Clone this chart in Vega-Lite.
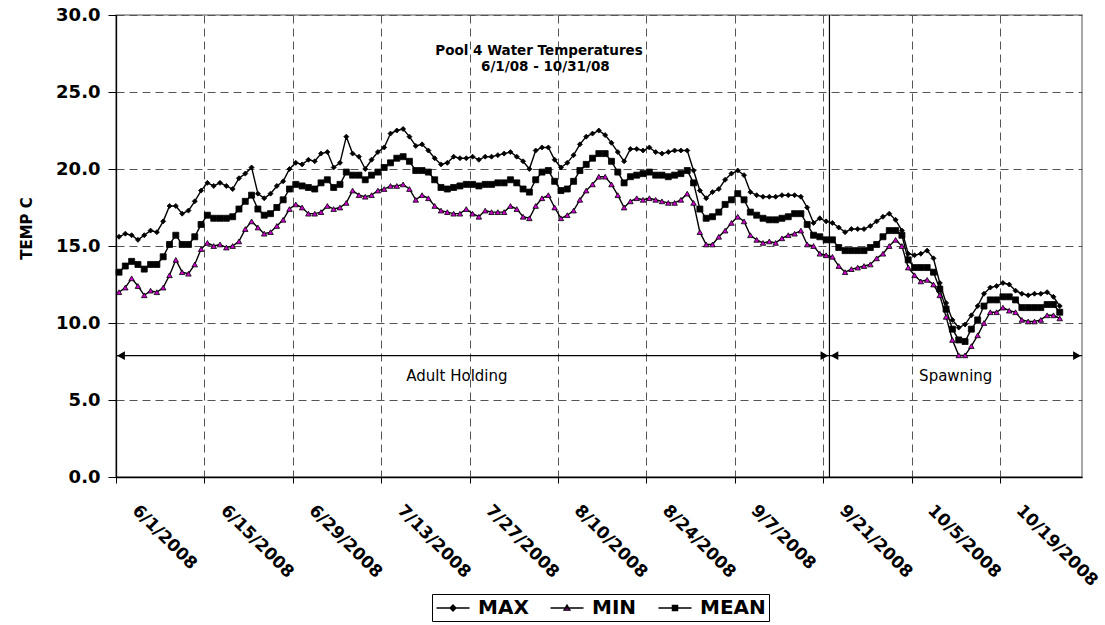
{
  "$schema": "https://vega.github.io/schema/vega-lite/v6.json",
  "autosize": "none",
  "width": 966,
  "height": 462,
  "padding": {"left": 116, "top": 15, "right": 23, "bottom": 148},
  "background": "white",
  "config": {
    "view": {"stroke": "#8c8c8c", "strokeWidth": 1.5},
    "font": "DejaVu Sans"
  },
  "datasets": {
    "temps": [
      {"date": "2008/06/01", "MAX": 15.6, "MEAN": 13.3, "MIN": 12.0},
      {"date": "2008/06/02", "MAX": 15.8, "MEAN": 13.7, "MIN": 12.3},
      {"date": "2008/06/03", "MAX": 15.7, "MEAN": 14.0, "MIN": 12.9},
      {"date": "2008/06/04", "MAX": 15.4, "MEAN": 13.8, "MIN": 12.4},
      {"date": "2008/06/05", "MAX": 15.7, "MEAN": 13.5, "MIN": 11.8},
      {"date": "2008/06/06", "MAX": 16.0, "MEAN": 13.8, "MIN": 12.1},
      {"date": "2008/06/07", "MAX": 15.9, "MEAN": 13.8, "MIN": 12.0},
      {"date": "2008/06/08", "MAX": 16.6, "MEAN": 14.3, "MIN": 12.3},
      {"date": "2008/06/09", "MAX": 17.6, "MEAN": 15.1, "MIN": 13.1},
      {"date": "2008/06/10", "MAX": 17.6, "MEAN": 15.7, "MIN": 14.1},
      {"date": "2008/06/11", "MAX": 17.1, "MEAN": 15.1, "MIN": 13.3},
      {"date": "2008/06/12", "MAX": 17.3, "MEAN": 15.1, "MIN": 13.2},
      {"date": "2008/06/13", "MAX": 17.9, "MEAN": 15.6, "MIN": 13.8},
      {"date": "2008/06/14", "MAX": 18.6, "MEAN": 16.4, "MIN": 14.8},
      {"date": "2008/06/15", "MAX": 19.1, "MEAN": 17.0, "MIN": 15.2},
      {"date": "2008/06/16", "MAX": 18.9, "MEAN": 16.8, "MIN": 15.0},
      {"date": "2008/06/17", "MAX": 19.1, "MEAN": 16.8, "MIN": 15.1},
      {"date": "2008/06/18", "MAX": 18.9, "MEAN": 16.8, "MIN": 14.9},
      {"date": "2008/06/19", "MAX": 18.7, "MEAN": 16.9, "MIN": 15.0},
      {"date": "2008/06/20", "MAX": 19.4, "MEAN": 17.4, "MIN": 15.3},
      {"date": "2008/06/21", "MAX": 19.7, "MEAN": 17.9, "MIN": 16.1},
      {"date": "2008/06/22", "MAX": 20.1, "MEAN": 18.3, "MIN": 16.6},
      {"date": "2008/06/23", "MAX": 18.4, "MEAN": 17.4, "MIN": 16.2},
      {"date": "2008/06/24", "MAX": 18.1, "MEAN": 17.0, "MIN": 15.8},
      {"date": "2008/06/25", "MAX": 18.4, "MEAN": 17.1, "MIN": 15.9},
      {"date": "2008/06/26", "MAX": 18.9, "MEAN": 17.5, "MIN": 16.3},
      {"date": "2008/06/27", "MAX": 19.2, "MEAN": 18.0, "MIN": 16.7},
      {"date": "2008/06/28", "MAX": 20.0, "MEAN": 18.7, "MIN": 17.4},
      {"date": "2008/06/29", "MAX": 20.4, "MEAN": 19.0, "MIN": 17.7},
      {"date": "2008/06/30", "MAX": 20.3, "MEAN": 18.9, "MIN": 17.5},
      {"date": "2008/07/01", "MAX": 20.6, "MEAN": 18.8, "MIN": 17.1},
      {"date": "2008/07/02", "MAX": 20.5, "MEAN": 18.7, "MIN": 17.1},
      {"date": "2008/07/03", "MAX": 21.0, "MEAN": 19.1, "MIN": 17.2},
      {"date": "2008/07/04", "MAX": 21.1, "MEAN": 19.3, "MIN": 17.6},
      {"date": "2008/07/05", "MAX": 20.1, "MEAN": 18.8, "MIN": 17.4},
      {"date": "2008/07/06", "MAX": 20.4, "MEAN": 19.0, "MIN": 17.5},
      {"date": "2008/07/07", "MAX": 22.1, "MEAN": 19.8, "MIN": 17.8},
      {"date": "2008/07/08", "MAX": 21.0, "MEAN": 19.6, "MIN": 18.6},
      {"date": "2008/07/09", "MAX": 20.8, "MEAN": 19.6, "MIN": 18.3},
      {"date": "2008/07/10", "MAX": 20.0, "MEAN": 19.3, "MIN": 18.2},
      {"date": "2008/07/11", "MAX": 20.6, "MEAN": 19.6, "MIN": 18.3},
      {"date": "2008/07/12", "MAX": 21.1, "MEAN": 19.8, "MIN": 18.6},
      {"date": "2008/07/13", "MAX": 21.4, "MEAN": 20.1, "MIN": 18.7},
      {"date": "2008/07/14", "MAX": 22.3, "MEAN": 20.4, "MIN": 18.9},
      {"date": "2008/07/15", "MAX": 22.5, "MEAN": 20.7, "MIN": 18.9},
      {"date": "2008/07/16", "MAX": 22.6, "MEAN": 20.8, "MIN": 19.0},
      {"date": "2008/07/17", "MAX": 22.1, "MEAN": 20.5, "MIN": 18.7},
      {"date": "2008/07/18", "MAX": 21.5, "MEAN": 19.9, "MIN": 18.0},
      {"date": "2008/07/19", "MAX": 21.6, "MEAN": 19.9, "MIN": 18.3},
      {"date": "2008/07/20", "MAX": 21.2, "MEAN": 19.8, "MIN": 18.1},
      {"date": "2008/07/21", "MAX": 20.7, "MEAN": 19.3, "MIN": 17.6},
      {"date": "2008/07/22", "MAX": 20.3, "MEAN": 18.8, "MIN": 17.3},
      {"date": "2008/07/23", "MAX": 20.4, "MEAN": 18.7, "MIN": 17.2},
      {"date": "2008/07/24", "MAX": 20.8, "MEAN": 18.8, "MIN": 17.1},
      {"date": "2008/07/25", "MAX": 20.7, "MEAN": 18.9, "MIN": 17.1},
      {"date": "2008/07/26", "MAX": 20.7, "MEAN": 19.0, "MIN": 17.4},
      {"date": "2008/07/27", "MAX": 20.8, "MEAN": 19.0, "MIN": 17.1},
      {"date": "2008/07/28", "MAX": 20.6, "MEAN": 18.9, "MIN": 16.9},
      {"date": "2008/07/29", "MAX": 20.8, "MEAN": 19.0, "MIN": 17.3},
      {"date": "2008/07/30", "MAX": 20.8, "MEAN": 19.0, "MIN": 17.2},
      {"date": "2008/07/31", "MAX": 20.9, "MEAN": 19.1, "MIN": 17.2},
      {"date": "2008/08/01", "MAX": 21.0, "MEAN": 19.1, "MIN": 17.2},
      {"date": "2008/08/02", "MAX": 21.1, "MEAN": 19.3, "MIN": 17.6},
      {"date": "2008/08/03", "MAX": 20.8, "MEAN": 19.1, "MIN": 17.4},
      {"date": "2008/08/04", "MAX": 20.5, "MEAN": 18.7, "MIN": 16.9},
      {"date": "2008/08/05", "MAX": 20.0, "MEAN": 18.5, "MIN": 16.8},
      {"date": "2008/08/06", "MAX": 21.2, "MEAN": 19.3, "MIN": 17.6},
      {"date": "2008/08/07", "MAX": 21.4, "MEAN": 19.8, "MIN": 18.1},
      {"date": "2008/08/08", "MAX": 21.4, "MEAN": 19.9, "MIN": 18.3},
      {"date": "2008/08/09", "MAX": 20.6, "MEAN": 19.2, "MIN": 17.5},
      {"date": "2008/08/10", "MAX": 20.1, "MEAN": 18.6, "MIN": 16.8},
      {"date": "2008/08/11", "MAX": 20.4, "MEAN": 18.7, "MIN": 17.0},
      {"date": "2008/08/12", "MAX": 20.9, "MEAN": 19.2, "MIN": 17.3},
      {"date": "2008/08/13", "MAX": 21.6, "MEAN": 19.9, "MIN": 18.0},
      {"date": "2008/08/14", "MAX": 22.1, "MEAN": 20.3, "MIN": 18.6},
      {"date": "2008/08/15", "MAX": 22.3, "MEAN": 20.7, "MIN": 19.0},
      {"date": "2008/08/16", "MAX": 22.5, "MEAN": 21.0, "MIN": 19.5},
      {"date": "2008/08/17", "MAX": 22.2, "MEAN": 21.0, "MIN": 19.5},
      {"date": "2008/08/18", "MAX": 21.7, "MEAN": 20.5, "MIN": 19.0},
      {"date": "2008/08/19", "MAX": 21.1, "MEAN": 19.8, "MIN": 18.3},
      {"date": "2008/08/20", "MAX": 20.5, "MEAN": 19.1, "MIN": 17.5},
      {"date": "2008/08/21", "MAX": 21.3, "MEAN": 19.5, "MIN": 17.9},
      {"date": "2008/08/22", "MAX": 21.3, "MEAN": 19.6, "MIN": 18.1},
      {"date": "2008/08/23", "MAX": 21.2, "MEAN": 19.7, "MIN": 18.0},
      {"date": "2008/08/24", "MAX": 21.4, "MEAN": 19.8, "MIN": 18.1},
      {"date": "2008/08/25", "MAX": 21.1, "MEAN": 19.6, "MIN": 18.0},
      {"date": "2008/08/26", "MAX": 21.0, "MEAN": 19.6, "MIN": 17.9},
      {"date": "2008/08/27", "MAX": 21.1, "MEAN": 19.5, "MIN": 17.8},
      {"date": "2008/08/28", "MAX": 21.2, "MEAN": 19.6, "MIN": 17.8},
      {"date": "2008/08/29", "MAX": 21.2, "MEAN": 19.7, "MIN": 18.0},
      {"date": "2008/08/30", "MAX": 21.2, "MEAN": 19.9, "MIN": 18.4},
      {"date": "2008/08/31", "MAX": 19.9, "MEAN": 19.1, "MIN": 17.8},
      {"date": "2008/09/01", "MAX": 18.6, "MEAN": 17.4, "MIN": 15.9},
      {"date": "2008/09/02", "MAX": 18.1, "MEAN": 16.8, "MIN": 15.1},
      {"date": "2008/09/03", "MAX": 18.5, "MEAN": 16.9, "MIN": 15.1},
      {"date": "2008/09/04", "MAX": 18.7, "MEAN": 17.2, "MIN": 15.6},
      {"date": "2008/09/05", "MAX": 19.3, "MEAN": 17.7, "MIN": 16.0},
      {"date": "2008/09/06", "MAX": 19.7, "MEAN": 18.0, "MIN": 16.5},
      {"date": "2008/09/07", "MAX": 19.9, "MEAN": 18.4, "MIN": 16.9},
      {"date": "2008/09/08", "MAX": 19.6, "MEAN": 18.0, "MIN": 16.6},
      {"date": "2008/09/09", "MAX": 18.5, "MEAN": 17.2, "MIN": 15.7},
      {"date": "2008/09/10", "MAX": 18.3, "MEAN": 17.0, "MIN": 15.4},
      {"date": "2008/09/11", "MAX": 18.2, "MEAN": 16.8, "MIN": 15.2},
      {"date": "2008/09/12", "MAX": 18.2, "MEAN": 16.7, "MIN": 15.3},
      {"date": "2008/09/13", "MAX": 18.2, "MEAN": 16.7, "MIN": 15.2},
      {"date": "2008/09/14", "MAX": 18.3, "MEAN": 16.8, "MIN": 15.5},
      {"date": "2008/09/15", "MAX": 18.3, "MEAN": 16.9, "MIN": 15.7},
      {"date": "2008/09/16", "MAX": 18.3, "MEAN": 17.1, "MIN": 15.8},
      {"date": "2008/09/17", "MAX": 18.2, "MEAN": 17.1, "MIN": 16.0},
      {"date": "2008/09/18", "MAX": 17.5, "MEAN": 16.4, "MIN": 15.1},
      {"date": "2008/09/19", "MAX": 16.5, "MEAN": 15.7, "MIN": 15.0},
      {"date": "2008/09/20", "MAX": 16.8, "MEAN": 15.6, "MIN": 14.5},
      {"date": "2008/09/21", "MAX": 16.6, "MEAN": 15.4, "MIN": 14.4},
      {"date": "2008/09/22", "MAX": 16.5, "MEAN": 15.4, "MIN": 14.3},
      {"date": "2008/09/23", "MAX": 16.2, "MEAN": 14.9, "MIN": 13.7},
      {"date": "2008/09/24", "MAX": 15.9, "MEAN": 14.7, "MIN": 13.3},
      {"date": "2008/09/25", "MAX": 16.1, "MEAN": 14.7, "MIN": 13.5},
      {"date": "2008/09/26", "MAX": 16.1, "MEAN": 14.7, "MIN": 13.6},
      {"date": "2008/09/27", "MAX": 16.1, "MEAN": 14.7, "MIN": 13.7},
      {"date": "2008/09/28", "MAX": 16.3, "MEAN": 14.9, "MIN": 13.8},
      {"date": "2008/09/29", "MAX": 16.6, "MEAN": 15.1, "MIN": 14.2},
      {"date": "2008/09/30", "MAX": 16.9, "MEAN": 15.6, "MIN": 14.5},
      {"date": "2008/10/01", "MAX": 17.1, "MEAN": 16.0, "MIN": 15.0},
      {"date": "2008/10/02", "MAX": 16.7, "MEAN": 16.0, "MIN": 15.4},
      {"date": "2008/10/03", "MAX": 16.0, "MEAN": 15.7, "MIN": 15.0},
      {"date": "2008/10/04", "MAX": 14.5, "MEAN": 14.1, "MIN": 13.6},
      {"date": "2008/10/05", "MAX": 14.4, "MEAN": 13.6, "MIN": 13.1},
      {"date": "2008/10/06", "MAX": 14.5, "MEAN": 13.6, "MIN": 12.7},
      {"date": "2008/10/07", "MAX": 14.7, "MEAN": 13.6, "MIN": 12.8},
      {"date": "2008/10/08", "MAX": 14.2, "MEAN": 13.3, "MIN": 12.5},
      {"date": "2008/10/09", "MAX": 12.6, "MEAN": 12.2, "MIN": 11.8},
      {"date": "2008/10/10", "MAX": 11.3, "MEAN": 10.9, "MIN": 10.4},
      {"date": "2008/10/11", "MAX": 10.2, "MEAN": 9.6, "MIN": 8.9},
      {"date": "2008/10/12", "MAX": 9.7, "MEAN": 8.9, "MIN": 7.9},
      {"date": "2008/10/13", "MAX": 9.9, "MEAN": 8.8, "MIN": 7.9},
      {"date": "2008/10/14", "MAX": 10.5, "MEAN": 9.6, "MIN": 8.5},
      {"date": "2008/10/15", "MAX": 11.1, "MEAN": 10.2, "MIN": 9.2},
      {"date": "2008/10/16", "MAX": 11.9, "MEAN": 11.1, "MIN": 10.0},
      {"date": "2008/10/17", "MAX": 12.3, "MEAN": 11.5, "MIN": 10.7},
      {"date": "2008/10/18", "MAX": 12.4, "MEAN": 11.5, "MIN": 10.7},
      {"date": "2008/10/19", "MAX": 12.6, "MEAN": 11.7, "MIN": 11.0},
      {"date": "2008/10/20", "MAX": 12.5, "MEAN": 11.7, "MIN": 10.8},
      {"date": "2008/10/21", "MAX": 12.1, "MEAN": 11.5, "MIN": 10.7},
      {"date": "2008/10/22", "MAX": 11.9, "MEAN": 11.0, "MIN": 10.2},
      {"date": "2008/10/23", "MAX": 11.8, "MEAN": 11.0, "MIN": 10.1},
      {"date": "2008/10/24", "MAX": 11.9, "MEAN": 11.0, "MIN": 10.1},
      {"date": "2008/10/25", "MAX": 11.9, "MEAN": 11.0, "MIN": 10.2},
      {"date": "2008/10/26", "MAX": 12.0, "MEAN": 11.2, "MIN": 10.5},
      {"date": "2008/10/27", "MAX": 11.7, "MEAN": 11.2, "MIN": 10.5},
      {"date": "2008/10/28", "MAX": 11.1, "MEAN": 10.7, "MIN": 10.3}
    ],
    "periods": [
      {"start": "2008/06/01", "end": "2008/09/22", "level": 7.88},
      {"start": "2008/09/22", "end": "2008/11/01", "level": 7.88}
    ],
    "headsLeft": [
      {"date": "2008/06/01", "level": 7.88},
      {"date": "2008/09/22", "level": 7.88}
    ],
    "headsRight": [
      {"date": "2008/09/22", "level": 7.88},
      {"date": "2008/11/01", "level": 7.88}
    ],
    "divider": [{"date": "2008/09/22"}],
    "periodLabels": [
      {"label": "Adult Holding", "date": "2008/07/25", "level": 6.55},
      {"label": "Spawning", "date": "2008/10/12", "level": 6.55}
    ],
    "titleLines": [
      {"label": "Pool 4 Water Temperatures", "date": "2008/08/07", "level": 27.65},
      {"label": "6/1/08 - 10/31/08", "date": "2008/08/08", "level": 26.65}
    ]
  },
  "layer": [
    {
      "data": {"name": "temps"},
      "transform": [{"fold": ["MAX", "MIN", "MEAN"], "as": ["series", "temp"]}],
      "mark": {"type": "line", "color": "black", "strokeWidth": 1.4, "xOffset": 3},
      "encoding": {
        "x": {
          "field": "date", "type": "temporal", "title": null,
          "scale": {"domain": [{"year": 2008, "month": 6, "date": 1}, {"year": 2008, "month": 11, "date": 1}]},
          "axis": {
            "values": [
              {"year": 2008, "month": 6, "date": 1}, {"year": 2008, "month": 6, "date": 15},
              {"year": 2008, "month": 6, "date": 29}, {"year": 2008, "month": 7, "date": 13},
              {"year": 2008, "month": 7, "date": 27}, {"year": 2008, "month": 8, "date": 10},
              {"year": 2008, "month": 8, "date": 24}, {"year": 2008, "month": 9, "date": 7},
              {"year": 2008, "month": 9, "date": 21}, {"year": 2008, "month": 10, "date": 5},
              {"year": 2008, "month": 10, "date": 19}
            ],
            "format": "%-m/%-d/%Y",
            "labelAngle": 45, "labelAlign": "left", "labelBaseline": "alphabetic",
            "labelFont": "DejaVu Sans", "labelFontSize": 17, "labelFontWeight": "bold", "labelColor": "black",
            "labelPadding": 28, "labelOffset": 15, "labelOverlap": false, "labelBound": false, "labelFlush": false,
            "tickSize": 6, "tickColor": "black", "domainColor": "black", "domainWidth": 1.3,
            "grid": true, "gridDash": [8, 5], "gridColor": "#555555", "gridWidth": 1
          }
        },
        "y": {
          "field": "temp", "type": "quantitative", "title": "TEMP C",
          "scale": {"domain": [0, 30], "nice": false, "zero": true},
          "axis": {
            "values": [0, 5, 10, 15, 20, 25, 30], "format": ".1f",
            "labelFont": "DejaVu Sans", "labelFontSize": 18, "labelFontWeight": "bold", "labelColor": "black",
            "labelPadding": 8, "tickSize": 8, "tickColor": "black", "domainColor": "black", "domainWidth": 1.3,
            "grid": true, "gridDash": [8, 5], "gridColor": "#555555", "gridWidth": 1,
            "titleFont": "DejaVu Sans", "titleFontSize": 15, "titleFontWeight": "bold", "titleColor": "black",
            "titleAngle": -90, "titleAlign": "center", "titleBaseline": "middle", "titleX": -90, "titleY": 213
          }
        },
        "detail": {"field": "series", "type": "nominal"}
      }
    },
    {
      "data": {"name": "divider"},
      "mark": {"type": "rule", "color": "black", "strokeWidth": 1.2},
      "encoding": {"x": {"field": "date", "type": "temporal"}}
    },
    {
      "data": {"name": "periods"},
      "mark": {"type": "rule", "color": "black", "strokeWidth": 1.3},
      "encoding": {
        "x": {"field": "start", "type": "temporal"},
        "x2": {"field": "end"},
        "y": {"field": "level", "type": "quantitative"}
      }
    },
    {
      "data": {"name": "headsLeft"},
      "mark": {"type": "point", "shape": "triangle-left", "filled": true, "color": "black", "opacity": 1, "size": 80, "xOffset": 5},
      "encoding": {
        "x": {"field": "date", "type": "temporal"},
        "y": {"field": "level", "type": "quantitative"}
      }
    },
    {
      "data": {"name": "headsRight"},
      "mark": {"type": "point", "shape": "triangle-right", "filled": true, "color": "black", "opacity": 1, "size": 80, "xOffset": -5},
      "encoding": {
        "x": {"field": "date", "type": "temporal"},
        "y": {"field": "level", "type": "quantitative"}
      }
    },
    {
      "data": {"name": "periodLabels"},
      "mark": {"type": "text", "font": "DejaVu Sans", "fontSize": 15, "color": "black", "align": "center", "baseline": "middle"},
      "encoding": {
        "x": {"field": "date", "type": "temporal"},
        "y": {"field": "level", "type": "quantitative"},
        "text": {"field": "label"}
      }
    },
    {
      "data": {"name": "titleLines"},
      "mark": {"type": "text", "font": "DejaVu Sans", "fontSize": 13.5, "fontWeight": "bold", "color": "black", "align": "center", "baseline": "middle"},
      "encoding": {
        "x": {"field": "date", "type": "temporal"},
        "y": {"field": "level", "type": "quantitative"},
        "text": {"field": "label"}
      }
    },
    {
      "data": {"name": "temps"},
      "transform": [{"fold": ["MAX", "MIN", "MEAN"], "as": ["series", "temp"]}],
      "mark": {"type": "point", "filled": true, "stroke": "black", "strokeWidth": 0.8, "opacity": 1, "xOffset": 3},
      "encoding": {
        "x": {"field": "date", "type": "temporal"},
        "y": {"field": "temp", "type": "quantitative"},
        "shape": {"field": "series", "type": "nominal", "scale": {"domain": ["MAX", "MIN", "MEAN"], "range": ["diamond", "triangle-up", "square"]}, "legend": null},
        "fill": {"field": "series", "type": "nominal", "scale": {"domain": ["MAX", "MIN", "MEAN"], "range": ["black", "#cc00cc", "black"]}, "legend": null},
        "size": {"field": "series", "type": "nominal", "scale": {"domain": ["MAX", "MIN", "MEAN"], "range": [25, 36, 42]}, "legend": null}
      }
    },
    {
      "data": {"name": "temps"},
      "transform": [{"fold": ["MAX", "MIN", "MEAN"], "as": ["series", "temp"]}, {"filter": "false"}],
      "mark": {"type": "point", "filled": false, "stroke": "black", "strokeWidth": 1.3, "opacity": 1},
      "encoding": {
        "x": {"field": "date", "type": "temporal"},
        "y": {"field": "temp", "type": "quantitative"},
        "shape": {
          "field": "series", "type": "nominal",
          "scale": {
            "domain": ["MAX", "MIN", "MEAN"],
            "range": [
              "M-1.65,0L1.65,0M0,-0.3L0.3,0L0,0.3L-0.3,0Z",
              "M-1.65,0L1.65,0M0,-0.3L0.3,0.22L-0.3,0.22Z",
              "M-1.65,0L1.65,0M-0.26,-0.26L0.26,-0.26L0.26,0.26L-0.26,0.26Z"
            ]
          },
          "legend": {
            "orient": "none", "legendX": 316, "legendY": 579, "direction": "horizontal", "title": null,
            "symbolSize": 400, "symbolOffset": 7, "symbolStrokeWidth": 1.3, "symbolStrokeColor": "black",
            "labelFont": "DejaVu Sans", "labelFontSize": 20, "labelFontWeight": "bold", "labelColor": "black",
            "labelOffset": 14, "columnPadding": 18, "padding": 3, "strokeColor": "black",
            "encoding": {
              "symbols": {
                "stroke": {"value": "black"},
                "strokeWidth": {"value": 1.3},
                "fill": {"condition": {"test": "datum.value === 'MIN'", "value": "#cc00cc"}, "value": "black"},
                "opacity": {"value": 1}
              }
            }
          }
        }
      }
    }
  ],
  "resolve": {"scale": {"shape": "independent"}}
}
